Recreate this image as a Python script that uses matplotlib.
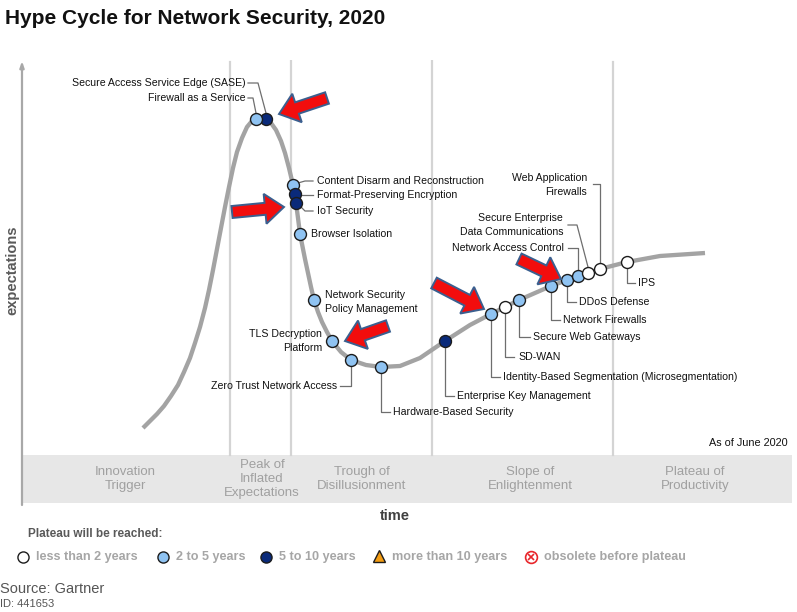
import matplotlib
matplotlib.use("Agg")
from matplotlib import pyplot as plt
from matplotlib import font_manager
from matplotlib.patches import FancyArrow, Rectangle

# ---- data (time, expectation) ------------------------------------------------
curve_x = [121, 128, 135, 142, 149, 156, 162, 168, 173, 178, 183, 187, 191, 195, 199,
           203, 207, 211, 215, 220, 225, 230, 234, 239, 244, 249, 254, 259, 263, 267,
           271, 273, 274, 276, 278, 280, 283, 286, 289, 292, 296, 300, 305, 310, 319,
           329, 344, 359, 378, 398, 423, 448, 469, 483, 497, 513, 529, 545, 556, 566,
           578, 605, 638, 683]
curve_y = [77, 84, 91, 99, 109, 120, 133, 147, 162, 178, 197, 215, 235, 256, 277,
           298, 318, 337, 353, 367, 378, 384, 386, 388, 386, 382, 375, 364, 352, 337,
           320, 311, 302, 287, 271, 261, 246, 232, 218, 205, 193, 183, 173, 164, 153,
           145, 140, 138, 139, 147, 164, 180, 191, 198, 205, 212, 219, 225, 229, 232,
           236, 243, 249, 252]

tech_names = ["Secure Access Service Edge (SASE)", "Firewall as a Service",
              "Content Disarm and Reconstruction", "Format-Preserving Encryption",
              "IoT Security", "Browser Isolation", "Network Security\nPolicy Management",
              "TLS Decryption\nPlatform", "Zero Trust Network Access",
              "Hardware-Based Security", "Enterprise Key Management",
              "Identity-Based Segmentation (Microsegmentation)", "SD-WAN",
              "Secure Web Gateways", "Network Firewalls", "DDoS Defense",
              "Network Access Control", "Secure Enterprise\nData Communications",
              "Web Application\nFirewalls", "IPS"]
tech_x = [244, 234, 271, 273, 274, 278, 292, 310, 329, 359, 423, 469, 483, 497, 529,
          545, 556, 566, 578, 605]
tech_y = [386, 386, 320, 311, 302, 271, 205, 164, 145, 138, 164, 191, 198, 205, 219,
          225, 229, 232, 236, 243]
# 0: less than 2 years, 1: 2 to 5 years, 2: 5 to 10 years
tech_status = [2, 1, 1, 2, 2, 1, 1, 1, 1, 1, 2, 1, 0, 1, 1, 1, 1, 0, 0, 0]

phase_names = ["Innovation\nTrigger", "Peak of\nInflated\nExpectations",
               "Trough of\nDisillusionment", "Slope of\nEnlightenment",
               "Plateau of\nProductivity"]
phase_bounds = [208, 269, 410, 591]

legend_labels = ["less than 2 years", "2 to 5 years", "5 to 10 years",
                 "more than 10 years", "obsolete before plateau"]

# ---- layout ------------------------------------------------------------------
label_pos = [(224, 422, "right"), (223, 407, "right"), (295, 324, "left"),
             (295, 310, "left"), (295, 294, "left"), (289, 271, "left"),
             (303, 203, "left"), (300, 164, "right"), (315, 119, "right"),
             (371, 93, "left"), (435, 109, "left"), (481, 128, "left"),
             (496, 148, "left"), (511, 168, "left"), (541, 185, "left"),
             (557, 203, "left"), (542, 257, "right"), (541, 280, "right"),
             (565, 320, "right"), (616, 222, "left")]
leaders = [[(226, 422), (236, 422), (244, 392)],
           [(226, 407), (231, 407), (234, 392)],
           [(276, 322), (283, 324), (291, 324)],
           [(278, 310), (291, 310)],
           [(278, 299), (283, 294), (291, 294)],
           None, None, None,
           [(329, 138), (329, 119), (318, 119)],
           [(359, 131), (359, 93), (368, 93)],
           [(423, 157), (423, 109), (432, 109)],
           [(469, 184), (469, 128), (478, 128)],
           [(483, 191), (483, 148), (492, 148)],
           [(497, 198), (497, 168), (508, 168)],
           [(529, 212), (529, 185), (538, 185)],
           [(545, 218), (545, 203), (554, 203)],
           [(556, 235), (556, 257), (546, 257)],
           [(566, 238), (555, 280), (546, 280)],
           [(578, 242), (578, 321), (571, 321)],
           [(605, 236), (605, 222), (613, 222)]]
red_arrows = [((305, 407), (257, 391)), ((210, 293), (262, 298)),
              ((366, 179), (323, 164)), ((412, 222), (462, 196)),
              ((497, 246), (539, 226))]

status_colors = ["#ffffff", "#8fc3f2", "#0a2a7a"]

installed = {f.name for f in font_manager.fontManager.ttflist}
narrow = "Liberation Sans Narrow" if "Liberation Sans Narrow" in installed else "Liberation Sans"
plt.rcParams["font.family"] = ["Liberation Sans", "DejaVu Sans"]

fig = plt.figure(figsize=(7.97, 6.12), dpi=100)
bg = fig.add_axes([0, 0, 1, 1])
bg.set_xlim(0, 797)
bg.set_ylim(612, 0)
bg.axis("off")

ax = fig.add_axes([22 / 797, 107 / 612, 770 / 797, 445 / 612])
ax.set_xlim(0, 770)
ax.set_ylim(0, 445)
ax.axis("off")

# phase band and separators
ax.add_patch(Rectangle((0, 2), 770, 48, facecolor="#e7e7e7", edgecolor="none", zorder=0))
for i, b in enumerate(phase_bounds):
    top = 443 if i in (0, 3) else 445
    ax.plot([b, b], [50, top], color="#d4d4d4", lw=1.6, zorder=0)
phase_centers = [103, 240, 340, 508, 673]
for name, cx in zip(phase_names, phase_centers):
    ax.text(cx, 26, name, ha="center", va="center", family=narrow, fontsize=9.5,
            color="#a0a0a0", linespacing=1.25)

# axes arrows
arrow_kw = dict(arrowstyle="-|>,head_length=0.35,head_width=0.12", color="#a8a8a8", lw=1.6,
                shrinkA=0, shrinkB=0)
ax.annotate("", xy=(0, 444), xytext=(0, 0), arrowprops=arrow_kw)
ax.annotate("", xy=(771, 1), xytext=(0, 1), arrowprops=arrow_kw)

# the hype curve
ax.plot(curve_x, curve_y, color="#a3a3a3", lw=3.1, solid_capstyle="butt",
        solid_joinstyle="round", zorder=2)

# leader lines, markers, labels
for i, name in enumerate(tech_names):
    if leaders[i]:
        lx, ly = zip(*leaders[i])
        ax.plot(lx, ly, color="#6e6e6e", lw=0.9, zorder=3)
    ax.plot(tech_x[i], tech_y[i], "o", ms=8.6, mfc=status_colors[tech_status[i]],
            mec="#1c1c1c", mew=1.0, zorder=5)
    tx, ty, ha = label_pos[i]
    ax.text(tx, ty, name, ha=ha, va="center", fontsize=7.6, color="#111111",
            multialignment=ha, linespacing=1.4, zorder=6)

# red callout arrows
for (x0, y0), (x1, y1) in red_arrows:
    ax.add_patch(FancyArrow(x0, y0, x1 - x0, y1 - y0, width=12, head_width=30,
                            head_length=19, length_includes_head=True,
                            facecolor="#f20d0d", edgecolor="#3a5f8f", lw=1.4, zorder=7))

ax.text(766, 62, "As of June 2020", ha="right", va="center", family=narrow,
        fontsize=7.8, color="#111111")

# labels, title, legend, source
bg.text(5, 19, "Hype Cycle for Network Security, 2020", fontsize=15, fontweight="bold",
        va="center", ha="left", color="#111111")
bg.text(12, 270, "expectations", rotation=90, fontsize=10.5, fontweight="bold",
        color="#5a5a5a", ha="center", va="center")
bg.text(395, 516, "time", fontsize=10.5, fontweight="bold", color="#404040",
        ha="center", va="center")
bg.text(28, 534, "Plateau will be reached:", family=narrow, fontsize=8.5,
        fontweight="bold", color="#595959", va="center")

legend_x = [23, 163, 266, 379, 531]
for i, (lab, lx) in enumerate(zip(legend_labels, legend_x)):
    if i < 3:
        bg.plot(lx, 557, "o", ms=8, mfc=status_colors[i], mec="#1c1c1c", mew=1.0)
    elif i == 3:
        bg.plot(lx, 556, "^", ms=9, mfc="#f39c12", mec="#1c1c1c", mew=1.0)
    else:
        bg.plot(lx, 557, "o", ms=8.5, mfc="white", mec="#e8262b", mew=1.2)
        bg.plot(lx, 557, "x", ms=4.5, mec="#e8262b", mew=1.2)
    bg.text(lx + 13, 557, lab, family=narrow, fontsize=9.1, fontweight="bold",
            color="#a6a6a6", va="center")

bg.text(0, 589, "Source: Gartner", family=narrow, fontsize=10.5, color="#555555", va="center")
bg.text(0, 604, "ID: 441653", family=narrow, fontsize=8, color="#555555", va="center")

fig.savefig("out.png", dpi=100)
